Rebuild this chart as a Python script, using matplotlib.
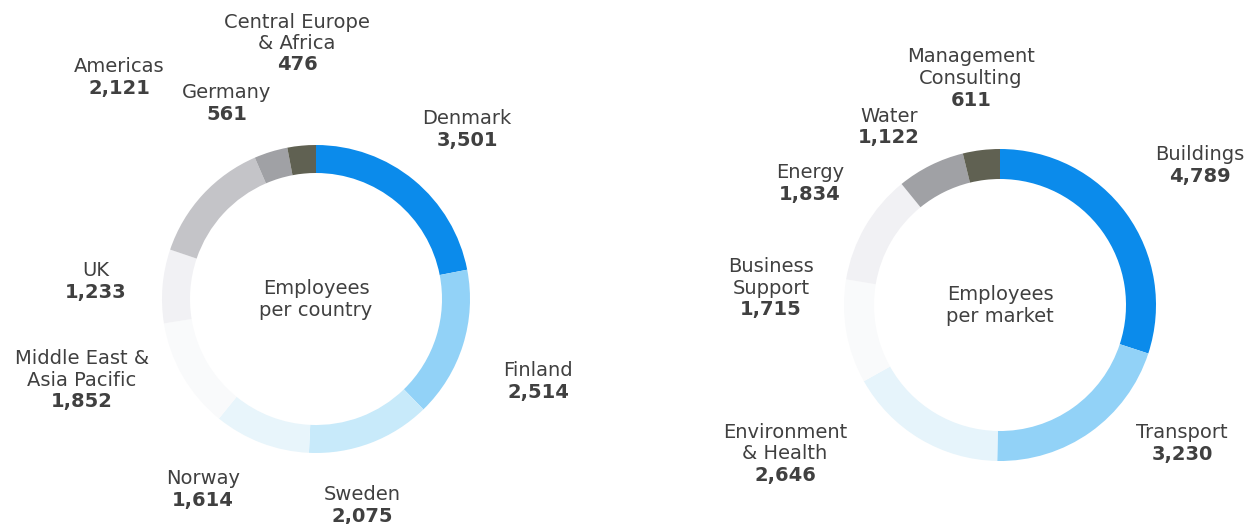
import matplotlib.pyplot as plt

# Employees per country (clockwise from 12 o'clock)
countries = ['Denmark', 'Finland', 'Sweden', 'Norway', 'Middle East &\nAsia Pacific',
             'UK', 'Americas', 'Germany', 'Central Europe\n& Africa']
country_values = [3501, 2514, 2075, 1614, 1852, 1233, 2121, 561, 476]

# Employees per market (clockwise from 12 o'clock)
markets = ['Buildings', 'Transport', 'Environment\n& Health', 'Business\nSupport',
           'Energy', 'Water', 'Management\nConsulting']
market_values = [4789, 3230, 2646, 1715, 1834, 1122, 611]

country_colors = ['#0b8beb', '#92d2f7', '#c8eafa', '#e8f5fb', '#f9fafb',
                  '#f1f1f4', '#c4c4c8', '#a0a1a5', '#606152']
market_colors = ['#0b8beb', '#92d2f7', '#e6f4fb', '#f9fafb',
                 '#f1f1f4', '#a0a1a5', '#606152']

# label anchor (x, y of first line) in pixels, top-left origin
country_pos = [(467, 119), (538, 371), (362, 495), (203, 479), (82, 359),
               (96, 271), (119, 67), (227, 93), (297, 22)]
market_pos = [(1200, 155), (1182, 433), (785, 432), (771, 267),
              (810, 173), (889, 116), (971, 57)]

fig = plt.figure(figsize=(12.5, 5.24), dpi=100)
ax = fig.add_axes([0, 0, 1, 1])

line_h = 21.5
txt = dict(family='DejaVu Sans', color='#404040', fontsize=14, ha='center', va='center')


def donut(values, colors, labels, positions, center, radius, width, title):
    # y axis is inverted, so counterclock in data space = clockwise on screen
    ax.pie(values, colors=colors, center=center, radius=radius, startangle=-90,
           counterclock=True, frame=True,
           wedgeprops=dict(width=width, linewidth=0))
    for lab, (x, y), v in zip(labels, positions, values):
        lines = lab.split('\n')
        for i, ln in enumerate(lines):
            ax.text(x, y + i * line_h, ln, fontweight='normal', **txt)
        ax.text(x, y + len(lines) * line_h, f'{v:,}', fontweight='bold', **txt)
    ax.text(center[0], center[1] - 11, title[0], fontweight='normal', **txt)
    ax.text(center[0], center[1] + 11, title[1], fontweight='normal', **txt)


donut(country_values, country_colors, countries, country_pos,
      (316, 299), 154, 28, ('Employees', 'per country'))
donut(market_values, market_colors, markets, market_pos,
      (1000, 305), 156, 30, ('Employees', 'per market'))

ax.set_xlim(0, 1250)
ax.set_ylim(524, 0)
ax.set_aspect('equal')
ax.axis('off')

fig.savefig('out.png', dpi=100, facecolor='white')
